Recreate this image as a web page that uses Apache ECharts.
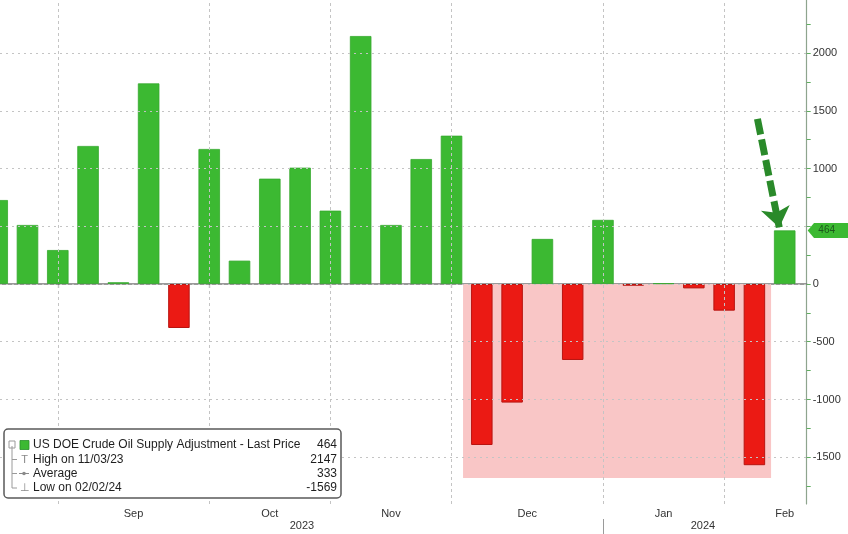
<!DOCTYPE html>
<html>
<head>
<meta charset="utf-8">
<script src="https://cdn.jsdelivr.net/npm/echarts@6/dist/echarts.min.js"></script>
<style>
html,body{margin:0;padding:0;background:#fff;}
#chart{width:848px;height:534px;}
</style>
</head>
<body>
<div id="chart"></div>
<script>
// ---- data (weekly, index 0 = first visible week) ----
const supplyAdj = [727, 511, 294, 1195, 15, 1737, -381, 1169, 202, 912, 1007, 635, 2147, 511, 1082, 1284, -1394, -1027, 390, -658, 555, -15, 6, -38, -231, -1569, 464];
const monthTickIdx = [2, 7, 11, 15, 20, 24];
const monthLabelIdx = [4.5, 9, 13, 17.5, 22, 26];
const monthNames = ['Sep', 'Oct', 'Nov', 'Dec', 'Jan', 'Feb'];
const yearDividerIdx = [20];
const yearLabelIdx = [10.06, 23.3];
const yearNames = ['2023', '2024'];
const yGridValues = [-1500, -1000, -500, 0, 500, 1000, 1500, 2000];
const yLabelValues = [-1500, -1000, -500, 0, 1000, 1500, 2000]; // 500 is hidden under the last-price tag
const yTickValues = [-1750, -1500, -1250, -1000, -750, -500, -250, 0, 250, 500, 750, 1000, 1250, 1500, 1750, 2000, 2250];
const shadeFrom = [15.38, 0];
const shadeTo = [25.55, -1680];
const arrowFrom = [25.1, 1430];
const arrowTo = [25.82, 490];
const legendLabels = ['US DOE Crude Oil Supply Adjustment - Last Price', 'High on 11/03/23', 'Average', 'Low on 02/02/24'];
const legendValues = ['464', '2147', '333', '-1569'];

const GREEN = '#3cb932', RED = '#eb1a14';
const FONT = 'Liberation Sans, Arial, sans-serif';

const chart = echarts.init(document.getElementById('chart'), null, {renderer: 'canvas'});

const xMin = 0.0925, xMax = 26.726;

const legendRowsY = [445, 459.5, 473.5, 488];
const legendGraphics = [
  {type: 'rect', shape: {x: 4, y: 429, width: 337, height: 69, r: 4},
   style: {fill: '#fff', stroke: '#5a5a5a', lineWidth: 1.5}, z: 100},
  {type: 'polyline', shape: {points: [[12, 446], [12, 488], [17, 488]]}, style: {stroke: '#9a9a9a', lineWidth: 1, fill: null}, z: 101},
  {type: 'polyline', shape: {points: [[12, 459.5], [17, 459.5]]}, style: {stroke: '#9a9a9a', lineWidth: 1, fill: null}, z: 101},
  {type: 'polyline', shape: {points: [[12, 473.5], [17, 473.5]]}, style: {stroke: '#9a9a9a', lineWidth: 1, fill: null}, z: 101},
  {type: 'rect', shape: {x: 9, y: 441, width: 6, height: 7}, style: {fill: null, stroke: '#9a9a9a', lineWidth: 1}, z: 101},
  {type: 'rect', shape: {x: 20, y: 440.5, width: 9, height: 9}, style: {fill: GREEN, stroke: '#2a8f2a', lineWidth: 0.8}, z: 101},
  {type: 'text', x: 24.5, y: 459.5, style: {text: 'T', fill: '#8a8a8a', font: '11px ' + FONT, align: 'center', verticalAlign: 'middle'}, z: 101},
  {type: 'polyline', shape: {points: [[19, 473.5], [29, 473.5]]}, style: {stroke: '#8a8a8a', lineWidth: 1, fill: null}, z: 101},
  {type: 'circle', shape: {cx: 24, cy: 473.5, r: 1.8}, style: {fill: '#8a8a8a'}, z: 101},
  {type: 'text', x: 24.5, y: 488, style: {text: '\u22A5', fill: '#8a8a8a', font: '11px ' + FONT, align: 'center', verticalAlign: 'middle'}, z: 101}
];
legendLabels.forEach((t, i) => {
  legendGraphics.push({type: 'text', x: 33, y: legendRowsY[i],
    style: {text: t, fill: '#1e1e1e', font: '12px ' + FONT, verticalAlign: 'middle'}, z: 101});
  legendGraphics.push({type: 'text', x: 337, y: legendRowsY[i],
    style: {text: legendValues[i], fill: '#1e1e1e', font: '12px ' + FONT, align: 'right', verticalAlign: 'middle'}, z: 101});
});

const option = {
  backgroundColor: '#ffffff',
  animation: false,
  grid: {left: 0, right: 41.3, top: 0, bottom: 30, containLabel: false, outerBoundsMode: 'none'},
  xAxis: [{
    type: 'value', min: xMin, max: xMax, position: 'bottom',
    axisLine: {show: true, lineStyle: {color: '#7a7a7a', width: 1.5}},
    axisTick: {show: true, customValues: monthTickIdx, length: 4, inside: false, lineStyle: {color: '#7a7a7a', width: 1.2}},
    axisLabel: {show: true, customValues: monthLabelIdx, margin: 4, color: '#333', fontSize: 11, fontFamily: FONT,
      formatter: v => { const k = monthLabelIdx.indexOf(v); return k >= 0 ? monthNames[k] : ''; }},
    splitLine: {show: false}
  }, {
    type: 'value', min: xMin, max: xMax, position: 'bottom', offset: 15,
    axisLine: {show: false},
    axisTick: {show: true, customValues: yearDividerIdx, length: 16, lineStyle: {color: '#9a9a9a', width: 1}},
    axisLabel: {show: true, customValues: yearLabelIdx, margin: 1, color: '#333', fontSize: 11, fontFamily: FONT,
      formatter: v => { const k = yearLabelIdx.indexOf(v); return k >= 0 ? yearNames[k] : ''; }},
    splitLine: {show: false}
  }],
  yAxis: {
    type: 'value', position: 'right', min: -1905, max: 2459,
    axisLine: {show: true, lineStyle: {color: '#8ea48e', width: 1.2}},
    axisTick: {show: true, customValues: yTickValues, length: 4, inside: false, lineStyle: {color: '#5fae5f', width: 1}},
    axisLabel: {show: true, customValues: yLabelValues, margin: 6, color: '#333', fontSize: 11, fontFamily: FONT,
      formatter: v => String(v)},
    splitLine: {show: false}
  },
  graphic: legendGraphics,
  series: [
    {
      type: 'line', data: [], z: 0, silent: true,
      markArea: {silent: true, itemStyle: {color: '#f9c6c6'},
        data: [[{coord: shadeFrom}, {coord: shadeTo}]]}
    },
    {
      type: 'line', data: [], z: 1, silent: true,
      markLine: {silent: true, symbol: ['none', 'none'], label: {show: false},
        data: [
          ...yGridValues.map(v => ({yAxis: v, lineStyle: {color: '#c4c4c4', type: [2, 4], width: 1}})),
          ...monthTickIdx.map(v => ({xAxis: v, lineStyle: {color: '#c4c4c4', type: [3, 3], width: 1}}))
        ]}
    },
    {
      type: 'bar', z: 2, barWidth: 21.5, clip: true,
      data: supplyAdj.map((v, i) => ({value: [i, v],
        itemStyle: v >= 0 ? {color: GREEN, borderColor: '#35a82d', borderWidth: 0.8}
                          : {color: RED, borderColor: '#b81410', borderWidth: 1}})),
      markPoint: {
        silent: true,
        symbol: 'path://M0,5 L6,0 L40,0 L40,10 L6,10 Z',
        symbolKeepAspect: false,
        symbolSize: [42, 15],
        symbolOffset: [22, 0],
        itemStyle: {color: GREEN},
        label: {show: true, position: 'inside', offset: [-2, 0], color: '#1c571c', fontSize: 10, fontFamily: FONT,
          formatter: p => String(supplyAdj[supplyAdj.length - 1])},
        data: [{coord: [xMax, supplyAdj[supplyAdj.length - 1]]}]
      }
    },
    {
      type: 'line', data: [], z: 5, silent: true,
      markLine: {silent: true, symbol: ['none', 'arrow'], symbolSize: [22, 20], label: {show: false},
        lineStyle: {color: '#2a8a2a', width: 7, type: [16, 5]},
        data: [[{coord: arrowFrom}, {coord: arrowTo}]]}
    }
  ]
};
chart.setOption(option);
</script>
</body>
</html>
